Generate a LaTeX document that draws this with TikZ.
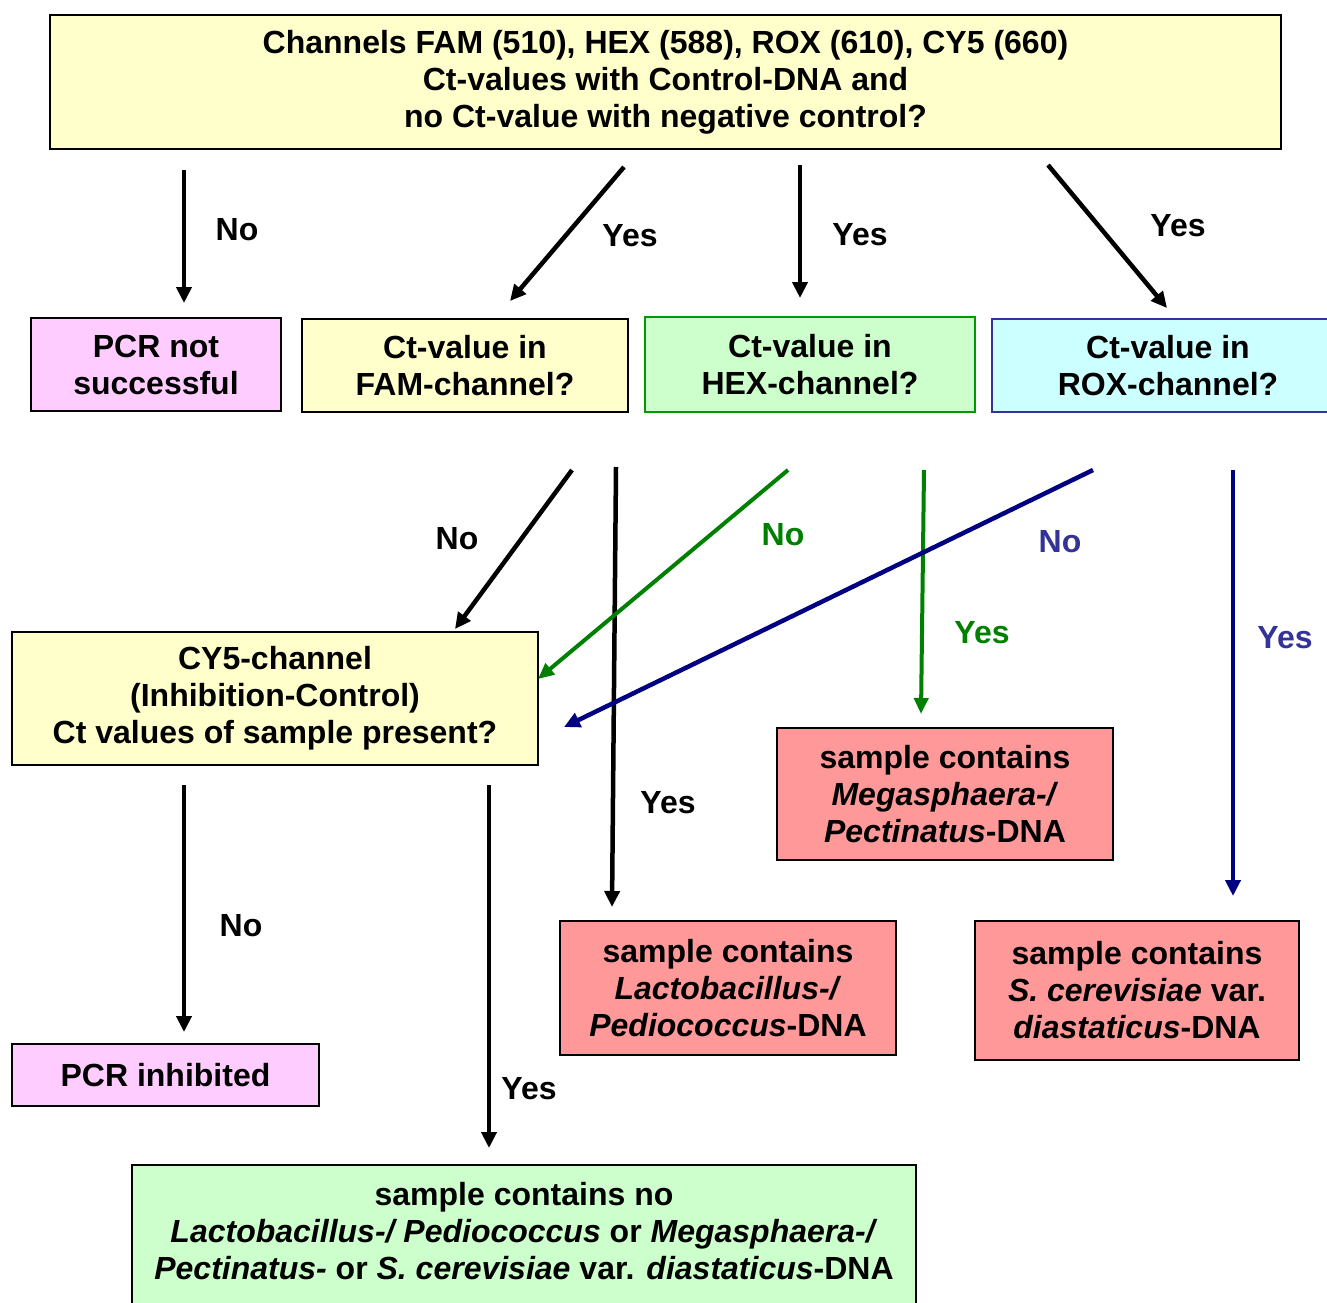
\documentclass[tikz,border=0pt]{standalone}
\usepackage{fontspec}
\setmainfont{Liberation Sans}
\usetikzlibrary{arrows.meta}
\definecolor{boxyellow}{HTML}{FFFFCC}
\definecolor{boxpink}{HTML}{FFCCFF}
\definecolor{boxgreen}{HTML}{CCFFCC}
\definecolor{boxcyan}{HTML}{CCFFFF}
\definecolor{boxred}{HTML}{FF9999}
\definecolor{arrgreen}{HTML}{008000}
\definecolor{arrblue}{HTML}{000080}
\definecolor{lblblue}{HTML}{333399}
\definecolor{edgegreen}{HTML}{009900}
\tikzset{
  box/.style={draw=black, line width=1.5pt, inner sep=0pt, align=center,
    font=\fontsize{32}{37}\selectfont\bfseries},
  lbl/.style={inner sep=0pt, font=\fontsize{32}{37}\selectfont\bfseries},
  arr/.style={line width=4.5pt, -{Triangle[length=16pt,width=15pt]}},
  thinarr/.style={line width=4pt, -{Triangle[length=16pt,width=14pt]}},
}
\begin{document}
\begin{tikzpicture}[x=1pt,y=-1pt]
\useasboundingbox (0,0) rectangle (1327,1302);
% boxes
\node[box, fill=boxyellow, minimum width=1231, minimum height=134] (top) at (665.5,82)
  {Channels FAM (510), HEX (588), ROX (610), CY5 (660)\\Ct-values with Control-DNA and\\no Ct-value with negative control?};
\node[box, fill=boxpink, minimum width=250, minimum height=93] (pcrns) at (156,364.5)
  {PCR not\\successful};
\node[box, fill=boxyellow, minimum width=326, minimum height=93] (fam) at (465,365.5)
  {Ct-value in\\FAM-channel?};
\node[box, fill=boxgreen, draw=edgegreen, minimum width=330, minimum height=95] (hex) at (810,364.5)
  {Ct-value in\\HEX-channel?};
\node[box, fill=boxcyan, draw=lblblue, minimum width=352, minimum height=93] (rox) at (1168,365.5)
  {Ct-value in\\ROX-channel?};
\node[box, fill=boxyellow, minimum width=526, minimum height=133] (cy5) at (275,698.5)
  {CY5-channel\\(Inhibition-Control)\\Ct values of sample present?};
\node[box, fill=boxred, minimum width=336, minimum height=132] (mega) at (945,794)
  {sample contains\\\textit{Megasphaera-/}\\\textit{Pectinatus}-DNA};
\node[box, fill=boxred, minimum width=336, minimum height=134] (lacto) at (728,988)
  {sample contains\\\textit{Lactobacillus-/}\\\textit{Pediococcus}-DNA};
\node[box, fill=boxred, minimum width=324, minimum height=139] (scer) at (1137,990.5)
  {sample contains\\\textit{S. cerevisiae} var.\\\textit{diastaticus}-DNA};
\node[box, fill=boxpink, minimum width=307, minimum height=62] (inhib) at (165.5,1075)
  {PCR inhibited};
\node[box, fill=boxgreen, minimum width=784, minimum height=160, anchor=north] (none) at (524,1164) {};
\node[lbl, align=center] (nonetext) at (524,1231)
  {sample contains no\\\textit{Lactobacillus-/ Pediococcus} or \textit{Megasphaera-/}\\\textit{Pectinatus-} or \textit{S. cerevisiae} var. \textit{diastaticus}-DNA};
% arrow end points
\coordinate (a1s) at (184,170);   \coordinate (a1e) at (184,303);
\coordinate (a2s) at (624,167);   \coordinate (a2e) at (510,301);
\coordinate (a3s) at (800,165);   \coordinate (a3e) at (800,298);
\coordinate (a4s) at (1048,165);  \coordinate (a4e) at (1167,308);
\coordinate (b1s) at (572,470);   \coordinate (b1e) at (455,629);
\coordinate (b2s) at (616,467);   \coordinate (b2e) at (612,907);
\coordinate (b3s) at (788,470);   \coordinate (b3e) at (538,679);
\coordinate (b4s) at (924,470);   \coordinate (b4e) at (921,714);
\coordinate (b5s) at (1093,470);  \coordinate (b5e) at (564,727);
\coordinate (b6s) at (1233,470);  \coordinate (b6e) at (1233,896);
\coordinate (c1s) at (184,785);   \coordinate (c1e) at (184,1032);
\coordinate (c2s) at (489,785);   \coordinate (c2e) at (489,1148);
% arrows
\draw[arr] (a1s) -- (a1e);
\draw[arr] (a2s) -- (a2e);
\draw[arr] (a3s) -- (a3e);
\draw[arr] (a4s) -- (a4e);
\draw[arr] (b1s) -- (b1e);
\draw[arr] (b2s) -- (b2e);
\draw[thinarr, arrgreen] (b3s) -- (b3e);
\draw[thinarr, arrgreen] (b4s) -- (b4e);
\draw[arr, arrblue] (b5s) -- (b5e);
\draw[arr, arrblue] (b6s) -- (b6e);
\draw[arr] (c1s) -- (c1e);
\draw[arr] (c2s) -- (c2e);
% labels
\node[lbl] (l1) at (237,230) {No};
\node[lbl] (l2) at (630,236) {Yes};
\node[lbl] (l3) at (860,235) {Yes};
\node[lbl] (l4) at (1178,226) {Yes};
\node[lbl] (l5) at (457,539) {No};
\node[lbl] (l6) at (668,803) {Yes};
\node[lbl, text=arrgreen] (l7) at (783,535) {No};
\node[lbl, text=arrgreen] (l8) at (982,633) {Yes};
\node[lbl, text=lblblue] (l9) at (1060,542) {No};
\node[lbl, text=lblblue] (l10) at (1285,638) {Yes};
\node[lbl] (l11) at (241,926) {No};
\node[lbl] (l12) at (529,1089) {Yes};
\end{tikzpicture}
\end{document}
